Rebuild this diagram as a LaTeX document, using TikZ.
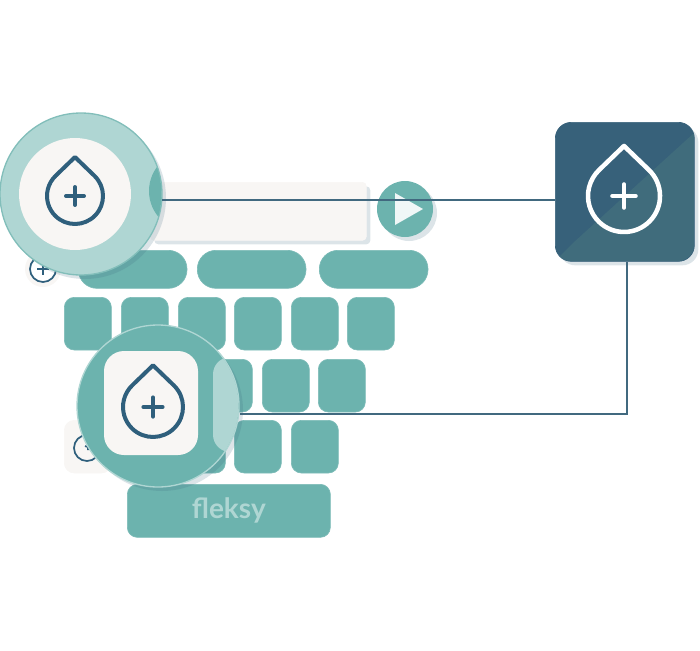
\documentclass[tikz,border=0pt]{standalone}
\usepackage{fontspec}
\setsansfont{Lato}
\usetikzlibrary{shadows}

\definecolor{keyteal}{HTML}{6CB3AE}
\definecolor{keyedge}{HTML}{7CBBB7}
\definecolor{paleteal}{HTML}{AFD6D3}
\definecolor{fieldwhite}{HTML}{F8F6F4}
\definecolor{inkblue}{HTML}{2F5F7C}
\definecolor{appblue}{HTML}{37617A}
\definecolor{appsheen}{HTML}{406C7C}
\definecolor{wireblue}{HTML}{41697F}
\definecolor{softshadow}{HTML}{3F6A80}

\tikzset{every picture/.style={line width=0.75pt}}
\tikzset{
    keycap/.style={fill=keyteal,draw=keyedge,line width=0.5pt,rounded corners=7.5pt,inner sep=0pt,anchor=north west,minimum width=35.25pt,minimum height=39.5pt},
    widekey/.style={keycap,rounded corners=14pt,minimum width=81.5pt,minimum height=28.5pt},
    softdrop/.style={drop shadow={shadow xshift=3pt,shadow yshift=-3pt,fill=softshadow,opacity=0.18}},
    wire/.style={draw=wireblue,line width=1.3pt},
    sheen/.style={fill=appsheen}
}

% drop with a plus: x, y of its round part, radius, colour, line width
\newcommand{\dropicon}[5]{
    \begin{scope}[shift={(#1,#2)},scale=#3,draw=#4,line width=#5,line join=round,line cap=round]
        \draw (0,-1.39) -- (0.695,-0.72) arc (-46:226:1) -- cycle ;
        \draw (-0.32,0) -- (0.32,0) (0,-0.32) -- (0,0.32) ;
    \end{scope}
}

\begin{document}
\begin{tikzpicture}[x=0.75pt,y=0.75pt,yscale=-1,xscale=1]
    \useasboundingbox (0,0) rectangle (700,650);

    % Wide keys
    \draw (78,250) node (widekeyA) [widekey] {};
    \draw (197,250) node (widekeyB) [widekey] {};
    \draw (319,250) node (widekeyC) [widekey] {};

    % Key rows
    \foreach \keyx in {64,121,178,234,291,347}
        \draw (\keyx,297) node (rowA\keyx) [keycap] {};
    \foreach \keyx in {148,205,262,318}
        \draw (\keyx,359) node (rowB\keyx) [keycap] {};
    \foreach \keyx in {178,234,291}
        \draw (\keyx,420) node (rowC\keyx) [keycap] {};

    % Key with hidden icon
    \draw (64,420) node (iconkey) [keycap,fill=fieldwhite,draw=fieldwhite] {};
    \draw[inkblue,line width=1.3pt] (87,448) circle (13) ;
    \draw[inkblue,line width=1.3pt] (85,446) -- (88,447) -- (88,450) ;

    % Space bar
    \draw (127,484) node (spacebar) [keycap,minimum width=152.25pt,minimum height=39.75pt] {};
    \draw (spacebar.center) node [text=paleteal,font=\sffamily\bfseries\fontsize{21}{21}\selectfont] {fleksy};

    % Small plus icon
    \fill[fieldwhite] (43,269) circle (18) ;
    \draw[inkblue,line width=1.3pt,fill=white] (43,269) circle (13) ;
    \draw[inkblue,line width=1.5pt] (37,269) -- (49,269) (43,263) -- (43,275) ;

    % Text field
    \draw (150,182) node (textfield) [keycap,fill=fieldwhite,draw=fieldwhite,rounded corners=3pt,minimum width=162pt,minimum height=43.5pt,softdrop] {};

    % Send button
    \draw (405,209) node (sendbutton) [circle,fill=keyteal,inner sep=0pt,minimum size=42pt,softdrop] {};
    \fill[white,opacity=0.9] (395,193) -- (423,209) -- (395,225) -- cycle ;

    % App tile
    \draw (555,122) node (apptile) [keycap,fill=appblue,draw=appblue,rounded corners=12pt,minimum width=104.25pt,minimum height=104.25pt,softdrop] {};
    \begin{scope}
        \clip[rounded corners=12pt] (555,122) rectangle (694,261);
        \fill[sheen] (694,133) -- (573,243) -- (555,261) -- (694,261) -- cycle ;
    \end{scope}
    \dropicon{624}{196}{36}{white}{3.4pt}

    % Top lens
    \draw (81,194) node (lensA) [circle,fill=paleteal,draw=keyteal!85,line width=1pt,inner sep=0pt,minimum size=121.5pt,softdrop] {};
    \begin{scope}
        \clip (81,194) circle (80.5);
        \fill[keyteal] (189,191) circle (40) ;
    \end{scope}
    \fill[fieldwhite] (75,194) circle (56) ;
    \dropicon{75}{196}{28}{inkblue}{3pt}

    % Lower lens
    \draw (158,406) node (lensB) [circle,fill=keyteal,draw=paleteal,line width=1pt,inner sep=0pt,minimum size=121.5pt,softdrop] {};
    \begin{scope}
        \clip (158,406) circle (80.5);
        \fill[paleteal,rounded corners=13pt] (213,357) rectangle (270,452) ;
    \end{scope}
    \fill[fieldwhite,rounded corners=15pt] (104,351) rectangle (198,455) ;
    \dropicon{153}{407}{30}{inkblue}{3pt}

    % Connectors
    \coordinate (elbow) at (627,414);
    \draw[wire] (lensA.-4) -- (lensA.-4 -| apptile.west) ;
    \draw[wire] (apptile.south -| elbow) -- (elbow) -- (lensB.east |- elbow) ;

\end{tikzpicture}
\end{document}
